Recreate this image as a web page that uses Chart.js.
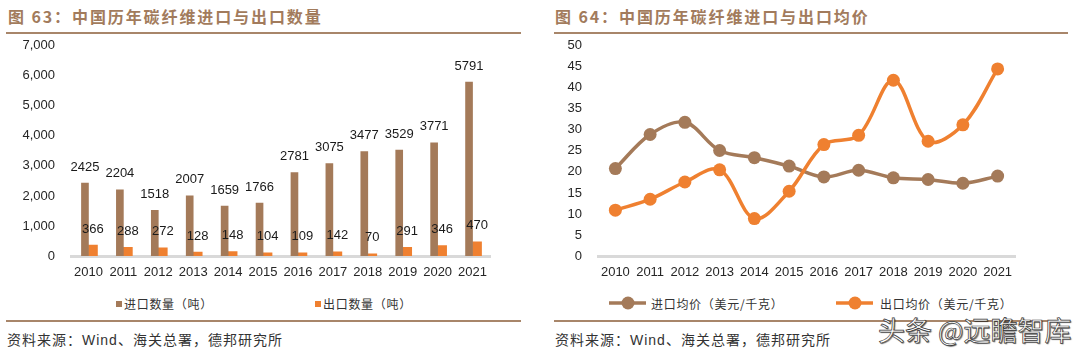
<!DOCTYPE html>
<html><head><meta charset="utf-8">
<script src="https://cdn.jsdelivr.net/npm/chart.js@4.4.1/dist/chart.umd.min.js"></script>
<style>
html,body{margin:0;padding:0;background:#fff;}
body{width:1080px;height:356px;position:relative;overflow:hidden;font-family:"Liberation Sans",Arial,sans-serif;}
.abs{position:absolute;white-space:nowrap;}
.title{font-family:"Noto Sans CJK SC";font-weight:700;font-size:16px;color:#A27B5C;letter-spacing:1.9px;top:6px;line-height:20px;}
.rule{height:2px;background:#A8866A;}
.src{font-family:"Liberation Sans","Noto Sans CJK SC";font-size:14px;color:#333;top:330px;line-height:20px;letter-spacing:1px;}
.leg{font-family:"Noto Sans CJK SC";font-size:12px;color:#333;line-height:16px;top:296px;letter-spacing:0.7px;}
.sq{width:6px;height:6px;top:301px;}
canvas{position:absolute;top:22px;}
.wm{font-family:"Noto Sans CJK SC";font-size:27px;line-height:30px;color:#fff;-webkit-text-stroke:0.7px #333;text-shadow:1px 1px 1px rgba(0,0,0,0.6);top:315px;left:878px;}
</style>
</head><body>
<div class="abs title" style="left:8px">图 63：中国历年碳纤维进口与出口数量</div>
<div class="abs title" style="left:555px">图 64：中国历年碳纤维进口与出口均价</div>
<div class="abs rule" style="left:6px;width:515px;top:32px"></div>
<div class="abs rule" style="left:554px;width:514px;top:32px"></div>

<canvas id="c1" width="540" height="263" style="left:0px"></canvas>
<canvas id="c2" width="540" height="263" style="left:540px"></canvas>

<div class="abs sq" style="left:116px;background:#A47A59"></div>
<div class="abs leg" style="left:124px">进口数量（吨）</div>
<div class="abs sq" style="left:315px;background:#EF8030"></div>
<div class="abs leg" style="left:323px">出口数量（吨）</div>

<svg class="abs" style="left:600px;top:293px" width="290" height="20">
  <line x1="9" y1="10" x2="46" y2="10" stroke="#A47A59" stroke-width="3.5"/>
  <circle cx="28" cy="10" r="6.5" fill="#A47A59"/>
  <line x1="236" y1="10" x2="273" y2="10" stroke="#EF8030" stroke-width="3.5"/>
  <circle cx="255" cy="10" r="6.5" fill="#EF8030"/>
</svg>
<div class="abs leg" style="left:651px">进口均价（美元/千克）</div>
<div class="abs leg" style="left:880px">出口均价（美元/千克）</div>

<div class="abs rule" style="left:6px;width:515px;top:320px"></div>
<div class="abs rule" style="left:554px;width:514px;top:320px"></div>
<div class="abs src" style="left:7px">资料来源：Wind、海关总署，德邦研究所</div>
<div class="abs src" style="left:555px">资料来源：Wind、海关总署，德邦研究所</div>
<div class="abs wm">头条 @远瞻智库</div>

<script>
// ---- data ----
const years = ['2010','2011','2012','2013','2014','2015','2016','2017','2018','2019','2020','2021'];
const importQty = [2425,2204,1518,2007,1659,1766,2781,3075,3477,3529,3771,5791];
const exportQty = [366,288,272,128,148,104,109,142,70,291,346,470];
const importPrice = [20.8,28.9,31.8,25.1,23.4,21.4,18.8,20.4,18.6,18.2,17.3,19.0];
const exportPrice = [10.9,13.5,17.6,20.5,8.9,15.4,26.5,28.7,41.8,27.3,31.2,44.5];
const qtyTicks = [0,1000,2000,3000,4000,5000,6000,7000];
const priceTicks = [0,5,10,15,20,25,30,35,40,45,50];
const qtyNames = ['进口数量（吨）','出口数量（吨）'];
const priceNames = ['进口均价（美元/千克）','出口均价（美元/千克）'];

const BROWN = '#A47A59';
const ORANGE = '#EF8030';
const TICK_FONT = {family:'"Liberation Sans", Arial, sans-serif', size:13};
const TICK_COLOR = '#262626';

const barLabels = {
  id:'barLabels',
  afterDatasetsDraw(chart, args, opts){
    const ctx = chart.ctx;
    ctx.save();
    ctx.font = '13px "Liberation Sans", Arial, sans-serif';
    ctx.fillStyle = '#1a1a1a';
    ctx.textAlign = 'center';
    ctx.textBaseline = 'middle';
    chart.data.datasets.forEach((ds, di) => {
      const meta = chart.getDatasetMeta(di);
      meta.data.forEach((el, i) => {
        ctx.fillText(String(ds.data[i]), el.x, el.y - opts.lift);
      });
    });
    ctx.restore();
  }
};

function xScale(){
  return {
    type:'category',
    offset:true,
    grid:{display:false, drawTicks:false},
    border:{display:true, color:'#D9D9D9', width:3},
    ticks:{font:TICK_FONT, color:TICK_COLOR, padding:9, maxRotation:0, autoSkip:false},
    afterFit(s){ s.height = 29; }
  };
}
function yScale(tickList, width, pad){
  return {
    min: tickList[0], max: tickList[tickList.length-1],
    grid:{display:false, drawTicks:false},
    border:{display:false},
    ticks:{font:TICK_FONT, color:TICK_COLOR, padding:pad,
      callback:(v)=> Number(v).toLocaleString('en-US')},
    afterBuildTicks(s){ s.ticks = tickList.map(v=>({value:v})); },
    afterFit(s){ s.width = width; }
  };
}

new Chart(document.getElementById('c1'), {
  type:'bar',
  data:{
    labels: years,
    datasets:[
      {label:qtyNames[0], data:importQty, backgroundColor:BROWN, barThickness:7},
      {label:qtyNames[1], data:exportQty, backgroundColor:ORANGE, barThickness:9}
    ]
  },
  options:{
    responsive:false, animation:false, devicePixelRatio:1,
    layout:{padding:{left:0, right:50, top:10, bottom:0}},
    plugins:{legend:{display:false}, tooltip:{enabled:false}, barLabels:{lift:16}},
    scales:{ x:xScale(), y:yScale(qtyTicks, 71, 16) }
  },
  plugins:[barLabels]
});

new Chart(document.getElementById('c2'), {
  type:'line',
  data:{
    labels: years,
    datasets:[
      {label:priceNames[0], data:importPrice, borderColor:BROWN, backgroundColor:BROWN,
       pointBackgroundColor:BROWN, pointBorderColor:BROWN, pointBorderWidth:0,
       borderWidth:3.5, pointRadius:6.5, tension:0.35, order:1, clip:false},
      {label:priceNames[1], data:exportPrice, borderColor:ORANGE, backgroundColor:ORANGE,
       pointBackgroundColor:ORANGE, pointBorderColor:ORANGE, pointBorderWidth:0,
       borderWidth:3.5, pointRadius:6.5, tension:0.35, order:0, clip:false}
    ]
  },
  options:{
    responsive:false, animation:false, devicePixelRatio:1,
    layout:{padding:{left:0, right:65, top:10, bottom:0}},
    plugins:{legend:{display:false}, tooltip:{enabled:false}},
    scales:{ x:xScale(), y:yScale(priceTicks, 58, 16) }
  }
});
</script>
</body></html>
